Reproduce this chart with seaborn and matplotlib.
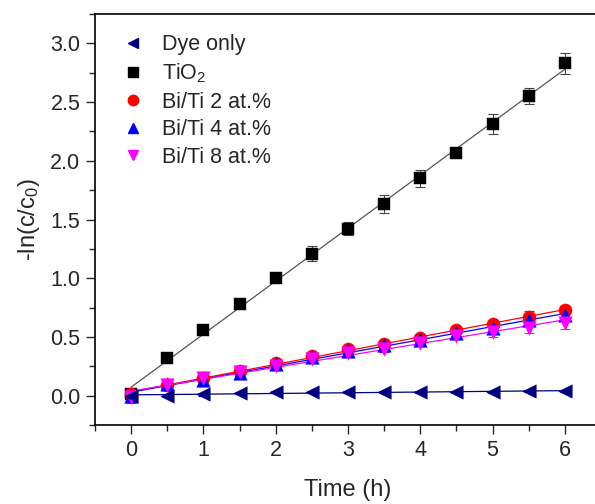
import numpy as np
import pandas as pd
import seaborn as sns
import matplotlib.pyplot as plt
from matplotlib.ticker import MultipleLocator

# data
time_h = [0, 0.5, 1, 1.5, 2, 2.5, 3, 3.5, 4, 4.5, 5, 5.5, 6]
dye_only = [0.00, 0.00, 0.01, 0.02, 0.03, 0.03, 0.03, 0.03, 0.03, 0.03, 0.03, 0.04, 0.04]
dye_err = [0.01, 0.01, 0.01, 0.01, 0.01, 0.01, 0.01, 0.01, 0.01, 0.01, 0.01, 0.01, 0.01]
tio2 = [0.01, 0.32, 0.56, 0.78, 1.00, 1.21, 1.42, 1.63, 1.85, 2.07, 2.31, 2.55, 2.83]
tio2_err = [0.02, 0.02, 0.02, 0.02, 0.02, 0.065, 0.055, 0.075, 0.075, 0.02, 0.085, 0.07, 0.09]
bi2 = [0.01, 0.09, 0.15, 0.21, 0.28, 0.34, 0.40, 0.44, 0.49, 0.56, 0.61, 0.67, 0.73]
bi2_err = [0.04, 0.03, 0.02, 0.02, 0.02, 0.02, 0.02, 0.02, 0.02, 0.02, 0.02, 0.05, 0.03]
bi4 = [0.00, 0.10, 0.13, 0.19, 0.27, 0.33, 0.38, 0.43, 0.47, 0.53, 0.58, 0.64, 0.69]
bi4_err = [0.04, 0.03, 0.03, 0.03, 0.02, 0.02, 0.02, 0.02, 0.02, 0.02, 0.02, 0.03, 0.03]
bi8 = [-0.01, 0.09, 0.15, 0.20, 0.25, 0.31, 0.36, 0.40, 0.45, 0.51, 0.54, 0.58, 0.62]
bi8_err = [0.05, 0.04, 0.03, 0.03, 0.03, 0.03, 0.03, 0.03, 0.03, 0.03, 0.04, 0.05, 0.05]

sns.set_style('ticks')
plt.rcParams['font.family'] = ['Liberation Sans', 'DejaVu Sans']
plt.rcParams['mathtext.default'] = 'regular'

fig = plt.figure(figsize=(5.95, 5.04), dpi=100)
ax = fig.add_axes([95 / 595, 79 / 504, 506 / 595, 411 / 504])

series = [
    ('TiO$_2$', tio2, tio2_err, 's', 'black', '#555555', '#444444', 80),
    ('Bi/Ti 2 at.%', bi2, bi2_err, 'o', 'red', 'red', 'red', 90),
    ('Bi/Ti 4 at.%', bi4, bi4_err, '^', 'blue', 'blue', 'blue', 95),
    ('Bi/Ti 8 at.%', bi8, bi8_err, 'v', 'magenta', 'magenta', 'magenta', 95),
    ('Dye only', dye_only, dye_err, '<', '#000080', '#000080', '#000080', 95),
]

handles = {}
for name, vals, errs, mk, col, lcol, ecol, size in series:
    df = pd.DataFrame({'t': time_h, 'y': vals})
    ax.errorbar(time_h, vals, yerr=errs, fmt='none', ecolor=ecol, elinewidth=0.8,
                capsize=3.5, capthick=0.8, zorder=2)
    sns.regplot(data=df, x='t', y='y', scatter=False, ci=None, ax=ax,
                line_kws={'color': lcol, 'lw': 0.9, 'zorder': 1})
    sns.scatterplot(data=df, x='t', y='y', marker=mk, color=col, s=size,
                    edgecolor=col, linewidth=0.3, ax=ax, zorder=3)
    handles[name] = plt.Line2D([], [], ls='none', marker=mk, color=col, markersize=7.5)

order = ['Dye only', 'TiO$_2$', 'Bi/Ti 2 at.%', 'Bi/Ti 4 at.%', 'Bi/Ti 8 at.%']
ax.legend([handles[k] for k in order], order, loc='upper left', frameon=False,
          fontsize=15.5, labelspacing=0.3, handletextpad=0.85, handlelength=1.0,
          borderaxespad=0, bbox_to_anchor=(0.037, 0.972))

ax.set_xlim(-0.5, 6.5)
ax.set_ylim(-0.25, 3.25)
ax.xaxis.set_major_locator(MultipleLocator(1))
ax.xaxis.set_minor_locator(MultipleLocator(0.5))
ax.yaxis.set_major_locator(MultipleLocator(0.5))
ax.yaxis.set_minor_locator(MultipleLocator(0.25))
ax.yaxis.set_major_formatter(plt.FormatStrFormatter('%.1f'))
ax.tick_params(which='major', direction='out', length=6.5, width=1, labelsize=15.5,
               top=False, right=False, pad=4)
ax.tick_params(which='minor', direction='out', length=4, width=1, top=False, right=False)
for sp in ['left', 'bottom', 'top']:
    ax.spines[sp].set_linewidth(1.2)
    ax.spines[sp].set_color('black')
ax.spines['right'].set_visible(False)

ax.set_xlabel('Time (h)', fontsize=17, labelpad=13)
ax.set_ylabel('-ln(c/c$_0$)', fontsize=17, labelpad=6)

fig.savefig('out.png', dpi=100)
